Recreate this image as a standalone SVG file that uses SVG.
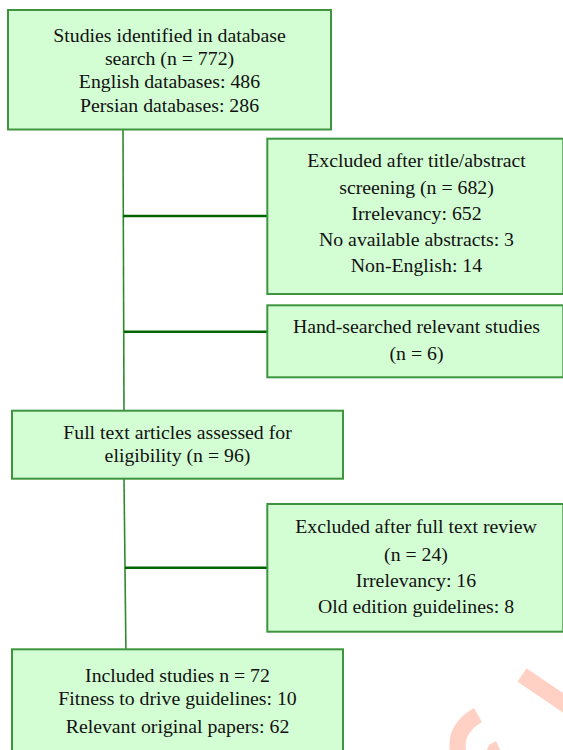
<svg xmlns="http://www.w3.org/2000/svg" width="563" height="750" viewBox="0 0 563 750">
<style>
.box{fill:#d3fdd3;stroke:#3f953f;stroke-width:2}
.t{font-family:"Liberation Serif","Times New Roman",serif;font-size:19.8px;fill:#111;text-anchor:middle}
.v{stroke:#2f8a2f;stroke-width:1.6;fill:none}
.h{stroke:#006400;stroke-width:2.4;fill:none}
.wm{fill:none;stroke:#ffd0c4;stroke-width:16}
</style>
<rect width="563" height="750" fill="#ffffff"/>
<g id="watermark">
<line class="wm" x1="522" y1="675" x2="590" y2="721"/>
<path class="wm" d="M478,715 Q452,730 459,756"/>
<polygon points="489,745 496,741 500,750 487,750" fill="#ffd0c4"/>
</g>
<g id="connectors">
<line class="v" x1="123" y1="129" x2="124" y2="411"/>
<line class="h" x1="123" y1="216" x2="268" y2="216"/>
<line class="h" x1="124" y1="331.7" x2="268" y2="331.7"/>
<line class="v" x1="124" y1="479" x2="126" y2="658"/>
<line class="h" x1="125" y1="567.7" x2="268" y2="567.7"/>
</g>
<g id="identified">
<rect class="box" x="8" y="10" width="323" height="119.5"/>
<text class="t" x="169.5" y="42.3">Studies identified in database</text>
<text class="t" x="169.5" y="65">search (n = 772)</text>
<text class="t" x="169.5" y="88">English databases: 486</text>
<text class="t" x="169.5" y="111.5">Persian databases: 286</text>
</g>
<g id="excluded-screening">
<rect class="box" x="267.3" y="138.7" width="296" height="155.3"/>
<text class="t" x="416.5" y="167.3">Excluded after title/abstract</text>
<text class="t" x="416.5" y="194">screening (n = 682)</text>
<text class="t" x="416.5" y="220">Irrelevancy: 652</text>
<text class="t" x="416.5" y="246">No available abstracts: 3</text>
<text class="t" x="416.5" y="271.7">Non-English: 14</text>
</g>
<g id="hand-searched">
<rect class="box" x="267.3" y="305.3" width="296" height="72"/>
<text class="t" x="416.5" y="332.7">Hand-searched relevant studies</text>
<text class="t" x="416.5" y="360">(n = 6)</text>
</g>
<g id="full-text">
<rect class="box" x="12" y="410.7" width="331" height="68"/>
<text class="t" x="177.5" y="439.3">Full text articles assessed for</text>
<text class="t" x="177.5" y="462.3">eligibility (n = 96)</text>
</g>
<g id="excluded-full-text">
<rect class="box" x="267.3" y="504" width="296" height="127.7"/>
<text class="t" x="416" y="533.3">Excluded after full text review</text>
<text class="t" x="416" y="560.7">(n = 24)</text>
<text class="t" x="416" y="586.7">Irrelevancy: 16</text>
<text class="t" x="416" y="613.3">Old edition guidelines: 8</text>
</g>
<g id="included">
<rect class="box" x="12" y="649.3" width="331" height="115"/>
<text class="t" x="177.5" y="681.7">Included studies n = 72</text>
<text class="t" x="177.5" y="705">Fitness to drive guidelines: 10</text>
<text class="t" x="177.5" y="733.3">Relevant original papers: 62</text>
</g>
</svg>
